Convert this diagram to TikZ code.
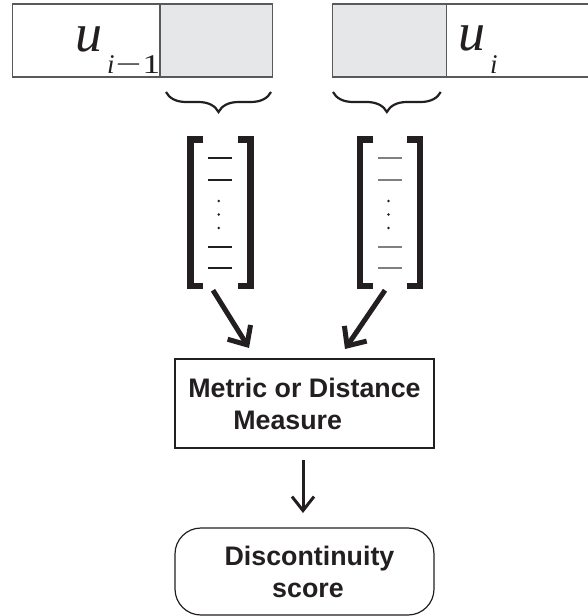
\documentclass[tikz,border=0pt]{standalone}
\usepackage{fontspec}
\setmainfont{Liberation Serif}
\setsansfont{Liberation Sans}
\usetikzlibrary{arrows.meta,decorations.pathreplacing,calc}
\definecolor{segfill}{HTML}{E6E7E8}
\definecolor{ink}{HTML}{231F20}
\definecolor{rim}{HTML}{58595B}

\begin{document}
\begin{tikzpicture}[x=1pt,y=-1pt,
  seg/.style={draw=rim,line width=1.2pt,minimum height=73pt,inner sep=0pt,outer sep=0pt,anchor=north west},
  overlap/.style={seg,fill=segfill},
  ulabel/.style={anchor=base west,inner sep=0pt,text=ink},
  brc/.style={draw=ink,line width=2.2pt,decorate,decoration={brace,amplitude=20pt}},
  vecbox/.style={minimum width=60pt,minimum height=146.5pt,inner sep=0pt,outer sep=0pt},
  bar/.style={draw=ink,line width=6.5pt,line cap=butt,line join=miter},
  entry/.style={line width=1.1pt},
  bigarrow/.style={draw=ink,line width=5pt,-{Straight Barb[length=15pt,width=27pt]}},
  smallarrow/.style={draw=ink,line width=3pt,-{Straight Barb[length=14pt,width=22pt]}},
  stage/.style={draw=ink,line width=1.2pt,minimum width=259pt,inner sep=0pt,outer sep=0pt,
    text=ink,font=\sffamily\bfseries\fontsize{26.8}{32}\selectfont}
]
\useasboundingbox (0,0) rectangle (587,616);

% the two units with their overlapping parts
\node[seg,minimum width=147.3pt] (leftseg) at (12.7,4) {};
\node[overlap,minimum width=112.7pt] (leftover) at (160,4) {};
\node[overlap,minimum width=114.4pt] (rightover) at (332.3,4) {};
\node[seg,minimum width=150pt] (rightseg) at (446.7,4) {};

\node[ulabel] (ulast) at (75,51.7) {\fontsize{54}{54}\selectfont\itshape u\kern5pt\raisebox{-21.6pt}{\fontsize{27}{27}\selectfont i\upshape\kern1pt\scalebox{1.7}[1]{−}\kern1pt\scalebox{1.3}[1]{1}}};
\node[ulabel] (ucur) at (458,50.7) {\fontsize{54}{54}\selectfont\itshape u\kern5pt\raisebox{-22.3pt}{\fontsize{27}{27}\selectfont i}};

% braces under the overlapping parts
\draw[brc] (271,92) -- (166,92);
\draw[brc] (440.7,92) -- (333,92);

% feature vectors
\node[vecbox] (vecL) at (220.25,212.5) {};
\node[vecbox] (vecR) at (390,212.5) {};
\foreach \v/\c in {vecL/ink,vecR/gray} {
  \draw[bar] ($(\v.north west)+(12.75,0)$) -- (\v.north west) -- (\v.south west) -- ($(\v.south west)+(12.75,0)$);
  \draw[bar] ($(\v.north east)+(-12.75,0)$) -- (\v.north east) -- (\v.south east) -- ($(\v.south east)+(-12.75,0)$);
  \foreach \yy in {158,180,247,268}
    \draw[entry,draw=\c] ($(\v.center)+(-12,\yy-212.5)$) -- ($(\v.center)+(12,\yy-212.5)$);
  \foreach \yy in {201,214.5,228}
    \fill[ink] ($(\v.center)+(-1.5,\yy-212.5)$) circle (1.3pt);
}

% comparison and score
\node[stage,minimum height=89pt,align=left] (metric) at (304.5,403.5) {Metric or Distance\\\hspace*{45pt}Measure};
\node[stage,minimum height=87pt,rounded corners=26pt,align=center] (score) at (304.5,571.5) {\hspace*{10pt}Discontinuity\\\hspace*{7pt}score};

\draw[bigarrow] ($(vecL.south)+(-7.25,4.5)$) -- ($(metric.north)+(-55.5,-11)$);
\draw[bigarrow] ($(vecR.south)+(-5,4.5)$) -- ($(metric.north)+(40.5,-10)$);
\draw[smallarrow] ($(metric.south)+(-1.5,12)$) -- ($(score.north)+(-1.5,-15)$);
\end{tikzpicture}
\end{document}
